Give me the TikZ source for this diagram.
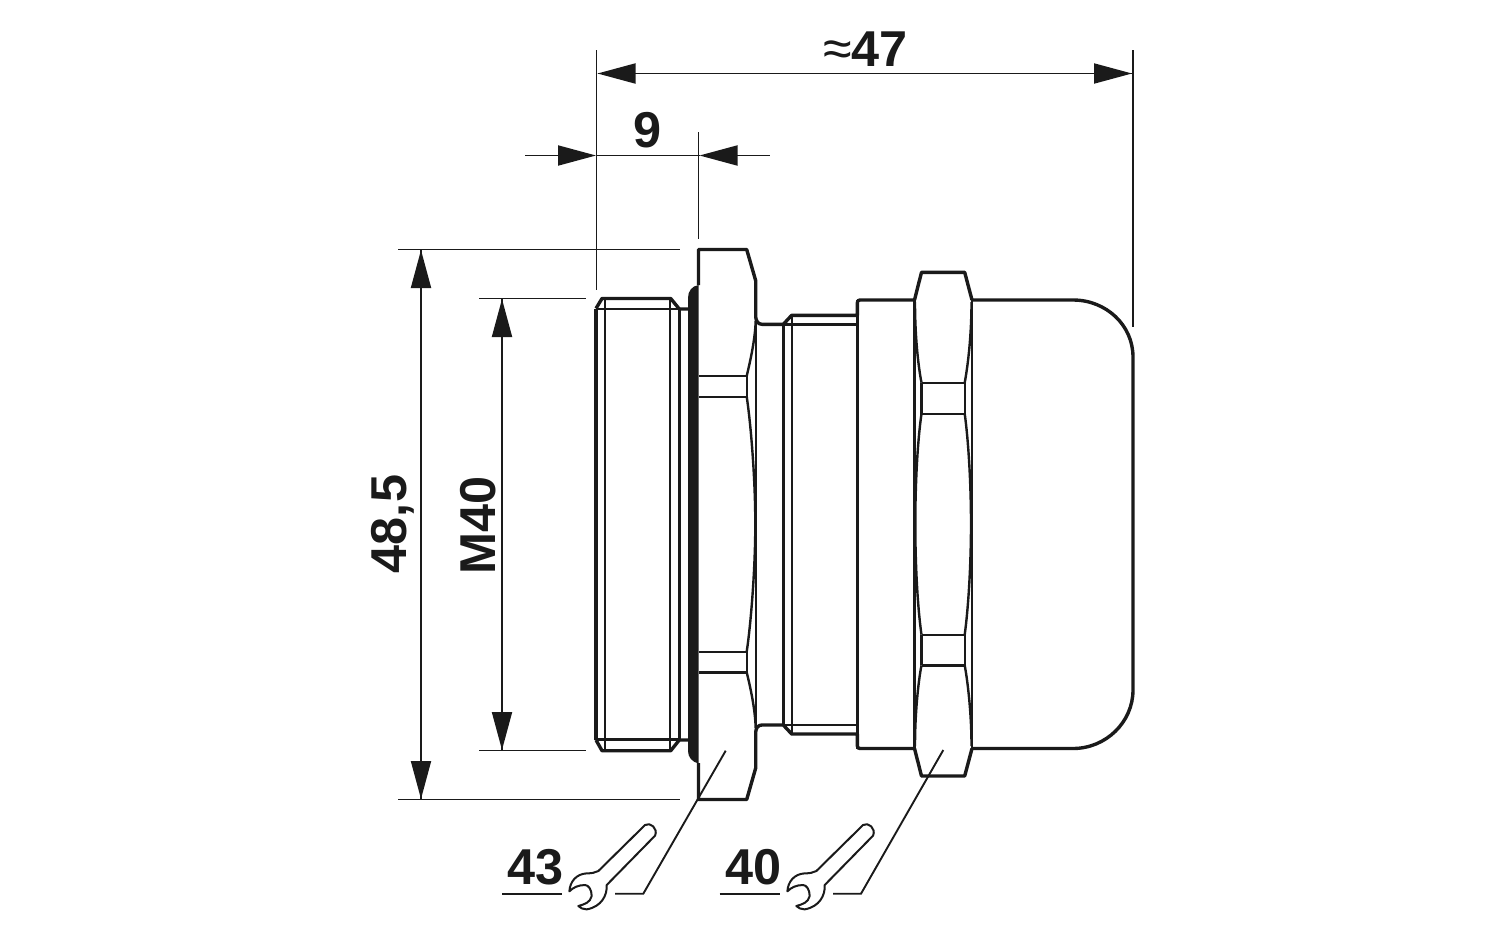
\documentclass[tikz,border=0pt]{standalone}
\usepackage{fontspec}
\setmainfont{Liberation Sans}
\usetikzlibrary{arrows.meta}
\definecolor{ink}{HTML}{1A1A1A}
\tikzset{
  heavy/.style={line width=1.7pt,line join=round,draw=ink},
  mid/.style={line width=1.2pt,line join=round,draw=ink},
  fine/.style={line width=.95pt,draw=ink},
  dimtip/.style={-{Triangle[length=19pt,width=10pt,fill=ink]}},
  lab/.style={font=\bfseries\fontsize{25.2}{25.2}\selectfont,text=ink,inner sep=0pt},
  wrench/.pic={
    \draw[line width=1pt,draw=ink,line join=round,fill=white,x=.1667pt,y=-.1667pt]
      (325,303) -- (465,165) .. controls (480,155) and (505,175) .. (495,197)
      -- (350,345) .. controls (352,375) and (335,410) .. (290,418)
      .. controls (280,418) and (270,414) .. (265,408)
      .. controls (285,402) and (300,398) .. (305,378)
      .. controls (305,358) and (295,345) .. (285,345)
      .. controls (265,345) and (250,352) .. (238,364)
      .. controls (240,335) and (258,312) .. (290,310)
      .. controls (305,310) and (315,308) .. (325,303) -- cycle;
  }
}
\begin{document}
\begin{tikzpicture}[x=.5pt,y=-.5pt]
\useasboundingbox (0,0) rectangle (1500,937);
% anchors
\coordinate (eL) at (596.5,50);   \coordinate (eLb) at (596.5,290);
\coordinate (eR) at (1133,50);    \coordinate (eRb) at (1133,327);
\coordinate (eM) at (698.5,132);  \coordinate (eMb) at (698.5,239);
\coordinate (d47l) at (597.5,73.5); \coordinate (d47r) at (1132,73.5);
\coordinate (d9a) at (525,155.5); \coordinate (d9b) at (596,155.5);
\coordinate (d9c) at (699.5,155.5); \coordinate (d9d) at (769.5,155.5);
\coordinate (h1) at (398,249.5); \coordinate (h1e) at (680,249.5);
\coordinate (h2) at (398,799.5); \coordinate (h2e) at (680,799.5);
\coordinate (m1) at (479,298.5); \coordinate (m1e) at (586,298.5);
\coordinate (m2) at (479,750.5); \coordinate (m2e) at (586,750.5);
\coordinate (d48t) at (421,250); \coordinate (d48b) at (421,799);
\coordinate (dMt) at (502,299);  \coordinate (dMb) at (502,750);
\coordinate (l43a) at (725.7,750.7); \coordinate (l43b) at (643.3,893.7); \coordinate (l43c) at (615,893.7);
\coordinate (l40a) at (943.3,750); \coordinate (l40b) at (861,893.7); \coordinate (l40c) at (833,893.7);
\coordinate (u43a) at (502,893.7); \coordinate (u43b) at (562,893.7);
\coordinate (u40a) at (719.5,893.7); \coordinate (u40b) at (780,893.7);

% washer
\fill[ink] (698.5,285) .. controls (692,286) and (688,291) .. (688,298) -- (688,751)
  .. controls (688,757) and (692,762) .. (698.5,763.5) -- cycle;

% left thread
\draw[heavy] (596,308.5) -- (602,298.5) -- (670.7,298.5) -- (679.3,309) -- (688,309);
\draw[heavy] (596,740) -- (602,750.7) -- (670.7,750.7) -- (679.3,740) -- (688,740);
\draw[heavy] (596,308.5) -- (596,740);
\draw[mid] (596,309) -- (679.3,309) (596,739.5) -- (679.3,739.5);
\draw[mid] (605,298.5) -- (605,750.7);
\draw[mid] (670,298.5) -- (670,750.7);
\draw[mid] (679.3,309) -- (679.3,740);

% flange outline
\draw[heavy] (698.5,285) -- (698.5,249.5) -- (746.7,249.5) -- (755.7,280.7) -- (755.7,317)
  .. controls (756,321) and (758,324.3) .. (762,324.3) -- (783.3,324.3) -- (791.7,315.3) -- (857.3,315.3)
  -- (857.3,303) .. controls (857.3,301) and (858,300) .. (860,300) -- (914.5,300);
\draw[heavy] (698.5,763) -- (698.5,799.5) -- (746.7,799.5) -- (755.7,768) -- (755.7,732)
  .. controls (756,728) and (758,725) .. (762,725) -- (783.3,725) -- (791.7,734) -- (857.3,734)
  -- (857.3,745.5) .. controls (857.3,747.5) and (858,748.5) .. (860,748.5) -- (914.5,748.5);
\draw[mid] (755.7,317) -- (755.7,732);
% flange facets
\draw[mid] (698.5,376) -- (746.7,376) -- (746.7,396.7) -- (698.5,396.7);
\draw[mid] (698.5,651.7) -- (746.7,651.7) -- (746.7,672.3) -- (698.5,672.3);
\draw[mid] (755.7,321) .. controls (755,340) and (750.5,360) .. (746.7,376);
\draw[mid] (746.7,396.7) .. controls (751,425) and (755.3,480) .. (755.3,524)
  .. controls (755.3,568) and (751,623) .. (746.7,651.7);
\draw[mid] (746.7,672.3) .. controls (750.5,688) and (755,708) .. (755.7,728);

% right thread
\draw[mid] (783.3,324.3) -- (783.3,725);
\draw[mid] (791.7,315.3) -- (791.7,734);
\draw[mid] (783.3,324.3) -- (857.3,324.3) (783.3,725) -- (857.3,725);
\draw[mid] (857.3,300) -- (857.3,748.5);

% body
\draw[heavy] (972,300) -- (1073,300) .. controls (1106,300) and (1133,325) .. (1133,357)
  -- (1133,690) .. controls (1133,722) and (1106,748.5) .. (1073,748.5) -- (972,748.5);

% nut
\draw[heavy] (914.5,300) -- (921.5,272.3) -- (964.7,272.3) -- (972,300);
\draw[heavy] (914.5,748.5) -- (921.5,776) -- (964.7,776) -- (972,748.5);
\draw[mid] (914.5,300) -- (914.5,748.5) (972,300) -- (972,748.5);
\draw[mid] (921.5,382.7) -- (964.7,382.7) (921.5,413.7) -- (964.7,413.7);
\draw[mid] (921.5,634.7) -- (964.7,634.7) (921.5,665.3) -- (964.7,665.3);
\draw[mid] (921.5,382.7) -- (921.5,413.7) (964.7,382.7) -- (964.7,413.7);
\draw[mid] (921.5,634.7) -- (921.5,665.3) (964.7,634.7) -- (964.7,665.3);
\draw[mid] (915,302) .. controls (915,335) and (918,365) .. (921.5,382.7);
\draw[mid] (971.5,302) .. controls (971.5,335) and (968,365) .. (964.7,382.7);
\draw[mid] (921.5,413.7) .. controls (917,445) and (915.3,490) .. (915.3,524)
  .. controls (915.3,558) and (917,603) .. (921.5,634.7);
\draw[mid] (964.7,413.7) .. controls (969,445) and (971,490) .. (971,524)
  .. controls (971,558) and (969,603) .. (964.7,634.7);
\draw[mid] (921.5,665.3) .. controls (918,683) and (915,715) .. (915,746);
\draw[mid] (964.7,665.3) .. controls (968,683) and (971.5,715) .. (971.5,746);

% extension lines
\draw[fine] (eL) -- (eLb);
\draw[fine] (eR) -- (eRb);
\draw[fine] (eM) -- (eMb);
\draw[fine] (h1) -- (h1e);
\draw[fine] (h2) -- (h2e);
\draw[fine] (m1) -- (m1e);
\draw[fine] (m2) -- (m2e);
% dimension lines
\draw[fine,dimtip] (d47r) -- (d47l);
\draw[fine,dimtip] (d47l) -- (d47r);
\draw[fine,dimtip] (d9a) -- (d9b);
\draw[fine] (d9b) -- (d9c);
\draw[fine,dimtip] (d9d) -- (d9c);
\draw[fine,dimtip] (d48b) -- (d48t);
\draw[fine,dimtip] (d48t) -- (d48b);
\draw[fine,dimtip] (dMb) -- (dMt);
\draw[fine,dimtip] (dMt) -- (dMb);
% leaders
\draw[fine] (l43a) -- (l43b) -- (l43c);
\draw[fine] (l40a) -- (l40b) -- (l40c);
\draw[fine] (u43a) -- (u43b);
\draw[fine] (u40a) -- (u40b);
% wrenches
\pic at (490,770) {wrench};
\pic at (708,770) {wrench};
% labels
\node[lab,anchor=base west] (t47) at (851,66) {47};
\node[text=ink,inner sep=0pt,anchor=base east,font=\fontsize{26}{26}\selectfont] (tapprox) at (852,66) {≈};
\node[lab] (t9) at (648,130) {9};
\node[lab,rotate=90] (t48) at (393,524) {48,5};
\node[lab,rotate=90] (tM) at (478,525) {M40};
\node[lab] (t43) at (536,867) {43};
\node[lab] (t40) at (753.5,867) {40};
\end{tikzpicture}
\end{document}
